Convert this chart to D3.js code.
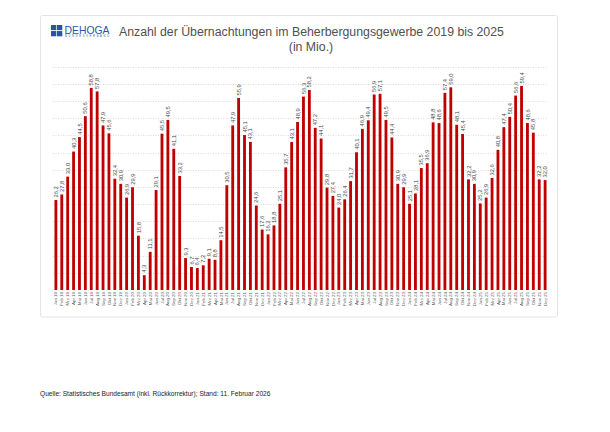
<!DOCTYPE html>
<html><head><meta charset="utf-8">
<script src="https://cdn.jsdelivr.net/npm/d3@7"></script>
<style>body{margin:0;background:#fff}svg{display:block}</style>
</head><body><svg id="c" width="610" height="432"></svg>
<script>
const months = ["Jan","Feb","Mrz","Apr","Mai","Jun","Jul","Aug","Sep","Okt","Nov","Dez"];
const years = ["19","20","21","22","23","24","25"];
const categories = years.flatMap(y => months.map(m => m + " " + y));
const values2019 = [26.2,27.8,33.0,40.3,44.5,50.6,58.8,57.8,47.9,45.6,32.4,30.9];
const values2020 = [26.9,29.9,15.8,4.3,11.1,29.1,45.5,49.5,41.1,33.2,9.3,6.7];
const values2021 = [6.4,7.2,9.1,8.8,14.5,30.5,47.9,55.9,45.1,43.1,24.6,17.6];
const values2022 = [16.2,18.8,25.1,35.7,43.1,48.9,56.3,58.2,47.2,44.1,29.8,27.4];
const values2023 = [24.0,26.4,31.7,40.1,46.9,49.4,56.9,57.1,49.5,44.4,30.9,29.9];
const values2024 = [25.1,28.1,35.5,36.9,48.8,48.6,57.4,59.0,48.1,45.4,32.2,30.9];
const values2025 = [25.2,26.9,32.6,40.8,47.4,50.4,56.6,59.4,48.6,45.8,32.2,32.0];
const values = [].concat(values2019,values2020,values2021,values2022,values2023,values2024,values2025);
const gridTicks = [5,10,15,20,25,30,35,40,45,50,55,60,65];
const titleLines = ["Anzahl der Übernachtungen im Beherbergungsgewerbe 2019 bis 2025","(in Mio.)"];
const sourceText = "Quelle: Statistisches Bundesamt (inkl. Rückkorrektur); Stand: 11. Februar 2026";

const data = categories.map((c,i)=>({c, v: values[i]}));
const svg = d3.select("#c");
const font = "'Liberation Sans', Arial, sans-serif";
const fmt = v => d3.format(".1f")(v).replace(".", ",");

svg.append("rect").attr("x",40.5).attr("y",15.5).attr("width",517).attr("height",301.5)
  .attr("rx",2).attr("fill","none").attr("stroke","#e4e4e4").attr("stroke-width",1);

const x = d3.scaleBand().domain(categories).range([53,548]).paddingInner(0.52).paddingOuter(0.25);
const y = d3.scaleLinear().domain([0,65]).range([290,66.7]);

svg.append("g").selectAll("line").data(gridTicks).join("line")
  .attr("x1",53).attr("x2",548).attr("y1",d=>Math.round(y(d))+0.5).attr("y2",d=>Math.round(y(d))+0.5)
  .attr("stroke","#d4d4d4").attr("stroke-width",0.8).attr("stroke-dasharray","1,1.5");

svg.append("g").selectAll("rect").data(data).join("rect")
  .attr("x",d=>x(d.c)).attr("width",x.bandwidth())
  .attr("y",d=>y(d.v)).attr("height",d=>y(0)-y(d.v))
  .attr("fill","#c00000");

svg.append("g").selectAll("text").data(data).join("text")
  .attr("transform",d=>`translate(${x(d.c)+x.bandwidth()/2+2.1},${y(d.v)-2.5}) rotate(-90)`)
  .attr("font-family",font).attr("font-size",5.8).attr("fill","#444")
  .text(d=>fmt(d.v));

svg.append("g").selectAll("text").data(data).join("text")
  .attr("transform",d=>`translate(${x(d.c)+x.bandwidth()/2+1.6},${292}) rotate(-90)`)
  .attr("text-anchor","end")
  .attr("font-family",font).attr("font-size",4.4).attr("fill","#555")
  .text(d=>d.c);

// Logo
const logo = svg.append("g");
const bl = "#2b55a3";
[[51,25],[57,25],[51,31],[57,31]].forEach(([lx,ly])=>{
  logo.append("rect").attr("x",lx).attr("y",ly).attr("width",5.3).attr("height",5.3).attr("fill",bl);
});
logo.append("line").attr("x1",51).attr("x2",62.3).attr("y1",30.6).attr("y2",30.6).attr("stroke","#fff").attr("stroke-width",0.6);
logo.append("text").attr("x",64.5).attr("y",33.5).attr("font-family",font).attr("font-size",11)
  .attr("fill",bl).attr("textLength",45).attr("lengthAdjust","spacingAndGlyphs").text("DEHOGA");
logo.append("text").attr("x",65).attr("y",37.3).attr("font-family",font).attr("font-size",2.6)
  .attr("fill",bl).attr("textLength",44).attr("lengthAdjust","spacing").text("BUNDESVERBAND");

svg.append("text").attr("x",119).attr("y",35.7).attr("font-family",font).attr("font-size",12.3)
  .attr("fill","#505050").text(titleLines[0]);
svg.append("text").attr("x",311).attr("y",51).attr("text-anchor","middle").attr("font-family",font).attr("font-size",12.3)
  .attr("fill","#505050").text(titleLines[1]);

svg.append("text").attr("x",40).attr("y",395.5).attr("font-family",font).attr("font-size",6.6)
  .attr("fill","#222").text(sourceText);
</script></body></html>
